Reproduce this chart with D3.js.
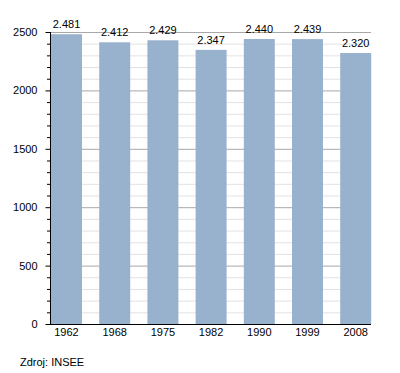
<!DOCTYPE html>
<html>
<head>
<meta charset="utf-8">
<script src="https://cdn.jsdelivr.net/npm/d3@7"></script>
<style>
  body { margin: 0; background: #fff; }
  text { font-family: "Liberation Sans", Arial, sans-serif; fill: #000; }
</style>
</head>
<body>
<svg id="chart" width="400" height="373"></svg>
<script>
'use strict';
let years = ["1962", "1968", "1975", "1982", "1990", "1999", "2008"];
let population = [2481, 2412, 2429, 2347, 2440, 2439, 2320];
let valueLabels = ["2.481", "2.412", "2.429", "2.347", "2.440", "2.439", "2.320"];
let majorTicks = [0, 500, 1000, 1500, 2000, 2500];
let sourceText = "Zdroj: INSEE";

let svg = d3.select("#chart"),
    margin = {top: 32, right: 29, bottom: 49, left: 50},
    width = +svg.attr("width"),
    height = +svg.attr("height");

let plotLeft = margin.left, plotRight = width - margin.right,
    plotTop = margin.top, plotBottom = height - margin.bottom;

let y = d3.scaleLinear()
    .domain([0, 2500])
    .range([plotBottom, plotTop]);

let x = d3.scaleBand()
    .domain(years)
    .range([plotLeft + 1, plotLeft + 1 + 7 * 48.2])
    .padding(0);

let barWidth = 31;
let minorTicks = d3.range(0, 2501, 100).filter(v => v % 500 !== 0);

// grid lines
svg.append("g")
    .selectAll("line")
    .data(minorTicks)
    .enter().append("line")
    .attr("x1", plotLeft).attr("x2", plotRight)
    .attr("y1", d => y(d) + 0.5).attr("y2", d => y(d) + 0.5)
    .style("stroke", "#e2e2e2");

svg.append("g")
    .selectAll("line")
    .data(majorTicks.filter(d => d > 0))
    .enter().append("line")
    .attr("x1", plotLeft).attr("x2", plotRight)
    .attr("y1", d => y(d) + 0.5).attr("y2", d => y(d) + 0.5)
    .style("stroke", "#a8a8a8");

// bars
svg.append("g")
    .selectAll("rect")
    .data(population)
    .enter().append("rect")
    .attr("x", (d, i) => x(years[i]))
    .attr("width", barWidth)
    .attr("y", d => y(d))
    .attr("height", d => plotBottom - y(d))
    .style("fill", "#98b1cd");

// value labels
svg.append("g")
    .selectAll("text")
    .data(population)
    .enter().append("text")
    .attr("x", (d, i) => x(years[i]) + barWidth / 2)
    .attr("y", d => y(d) - 6)
    .style("text-anchor", "middle")
    .style("font-size", "11px")
    .text((d, i) => valueLabels[i]);

// y axis
let yAxis = svg.append("g")
    .attr("transform", "translate(" + (plotLeft + 0.5) + ",0)")
    .call(d3.axisLeft(y).tickValues(majorTicks).tickFormat(d3.format("d")).tickSize(5).tickPadding(8));
yAxis.select(".domain").remove();
yAxis.selectAll("text").style("font-size", "11px").attr("font-family", null);

svg.append("g")
    .selectAll("line")
    .data(minorTicks)
    .enter().append("line")
    .attr("x1", plotLeft - 3).attr("x2", plotLeft)
    .attr("y1", d => y(d) + 0.5).attr("y2", d => y(d) + 0.5)
    .style("stroke", "#000");

svg.append("line")
    .attr("x1", plotLeft + 0.5).attr("x2", plotLeft + 0.5)
    .attr("y1", plotTop).attr("y2", plotBottom + 1)
    .style("stroke", "#000");

// x axis
svg.append("line")
    .attr("x1", plotLeft).attr("x2", plotRight)
    .attr("y1", plotBottom + 0.5).attr("y2", plotBottom + 0.5)
    .style("stroke", "#000");

svg.append("g")
    .selectAll("text")
    .data(years)
    .enter().append("text")
    .attr("x", d => x(d) + barWidth / 2)
    .attr("y", plotBottom + 12)
    .style("text-anchor", "middle")
    .style("font-size", "11px")
    .text(d => d);

svg.append("text")
    .attr("x", 20)
    .attr("y", 366)
    .style("font-size", "11px")
    .text(sourceText);
</script>
</body>
</html>
